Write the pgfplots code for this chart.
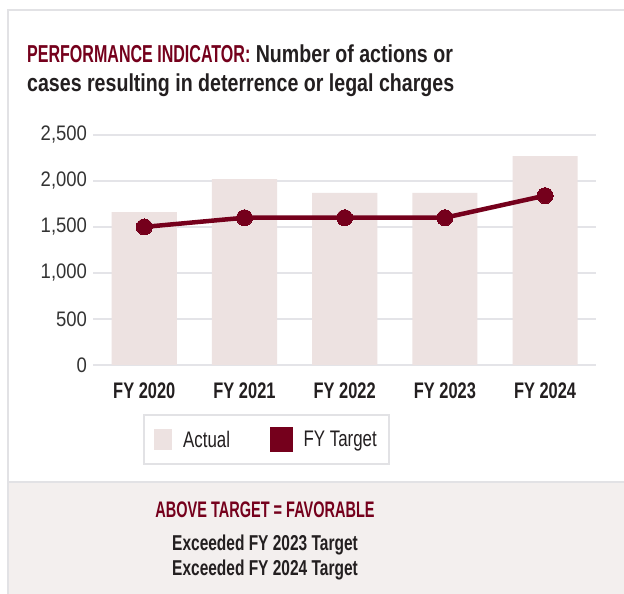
\documentclass[border=0pt]{standalone}
\usepackage{fontspec}
\setmainfont{Liberation Sans}
\usepackage{pgfplots}
\pgfplotsset{compat=1.18}
\newfontfamily\fTitleC{Liberation Sans}[FakeStretch=0.655]
\newfontfamily\fTitleL{Liberation Sans}[FakeStretch=0.80]
\newfontfamily\fCaps{Liberation Sans}[FakeStretch=0.645]
\newfontfamily\fXt{Liberation Sans}[FakeStretch=0.73]
\newfontfamily\fYt{Liberation Sans}[FakeStretch=0.88]
\newfontfamily\fLeg{Liberation Sans}[FakeStretch=0.75]
\newfontfamily\fEx{Liberation Sans}[FakeStretch=0.72]
\definecolor{maroon}{RGB}{117,0,28}
\definecolor{barc}{RGB}{237,226,225}
\definecolor{gridc}{RGB}{228,228,232}
\definecolor{panel}{RGB}{243,239,238}
\definecolor{framec}{RGB}{226,226,229}
\definecolor{txt}{RGB}{35,31,32}
\definecolor{tickc}{RGB}{51,51,51}
\begin{document}
\begin{tikzpicture}[x=1bp,y=1bp]
\path[use as bounding box] (0,0) rectangle (624,594);
\fill[white] (0,0) rectangle (624,594);
\fill[panel] (8,0) rectangle (624,112);
\draw[framec, line width=1.5bp] (8,112) -- (624,112);
\draw[framec, line width=1.5bp] (8,0) -- (8,584) -- (624,584);
\node[anchor=base west, inner sep=0pt] at (27,531.5) {\bfseries\fontsize{24.5bp}{28bp}\selectfont\textcolor{maroon}{\fTitleC\bfseries PERFORMANCE INDICATOR:}\textcolor{txt}{\fTitleL\bfseries\ Number of actions or}};
\node[anchor=base west, inner sep=0pt] at (27,502) {\fTitleL\bfseries\fontsize{24.5bp}{28bp}\selectfont\textcolor{txt}{cases resulting in deterrence or legal charges}};
\node[anchor=base, inner sep=0pt, text=maroon] at (265,76) {\fCaps\bfseries\fontsize{22.5bp}{26bp}\selectfont ABOVE TARGET = FAVORABLE};
\node[anchor=base, inner sep=0pt, text=txt] at (265,43) {\fEx\bfseries\fontsize{21.5bp}{25bp}\selectfont Exceeded FY 2023 Target};
\node[anchor=base, inner sep=0pt, text=txt] at (265,18) {\fEx\bfseries\fontsize{21.5bp}{25bp}\selectfont Exceeded FY 2024 Target};
\begin{axis}[
  at={(93,249)}, anchor=south west, scale only axis,
  width=503bp, height=230bp,
  xmin=-0.51, xmax=4.51, ymin=0, ymax=2500,
  clip=false,
  axis line style={draw=none},
  major tick length=0pt,
  ytick={0,500,1000,1500,2000,2500},
  yticklabels={0,500,{1,000},{1,500},{2,000},{2,500}},
  xtick={0,1,2,3,4},
  xticklabels={FY 2020,FY 2021,FY 2022,FY 2023,FY 2024},
  ymajorgrids,
  major grid style={draw=gridc, line width=2bp},
  yticklabel style={anchor=east, inner sep=0pt, xshift=-6bp, text=tickc, font=\fYt\fontsize{21bp}{24bp}\selectfont},
  xticklabel style={anchor=north, inner sep=0pt, yshift=-18bp, text=txt, font=\fXt\bfseries\fontsize{22.5bp}{25bp}\selectfont},
  legend columns=2,
  legend style={at={(0.0994,-0.213)}, anchor=north west, draw=framec, line width=2bp,
    inner xsep=10bp, inner ysep=12bp, fill=white,
    font=\fLeg\fontsize{22.5bp}{26bp}\selectfont, text=txt,
    nodes={inner sep=2bp, text depth=0.15em},
    /tikz/every odd column/.append style={column sep=9bp},
    /tikz/every even column/.append style={column sep=38bp}},
]
\addplot[ybar, bar width=0.65, fill=barc, draw=none,
  legend image code/.code={\fill[barc] (0bp,-10.5bp) rectangle (18bp,10.5bp);}]
  coordinates {(0,1660) (1,2020) (2,1870) (3,1870) (4,2270)};
\addlegendentry{Actual}
\addplot[color=maroon, line width=4.5bp, mark=*, mark size=8bp,
  mark options={solid, fill=maroon, draw=maroon, line width=0pt},
  legend image code/.code={\fill[maroon] (0bp,-10.5bp) rectangle (18bp,10.5bp);}]
  coordinates {(0,1500) (1,1600) (2,1600) (3,1600) (4,1840)};
\addlegendentry{FY Target}
\end{axis}
\end{tikzpicture}
\end{document}
